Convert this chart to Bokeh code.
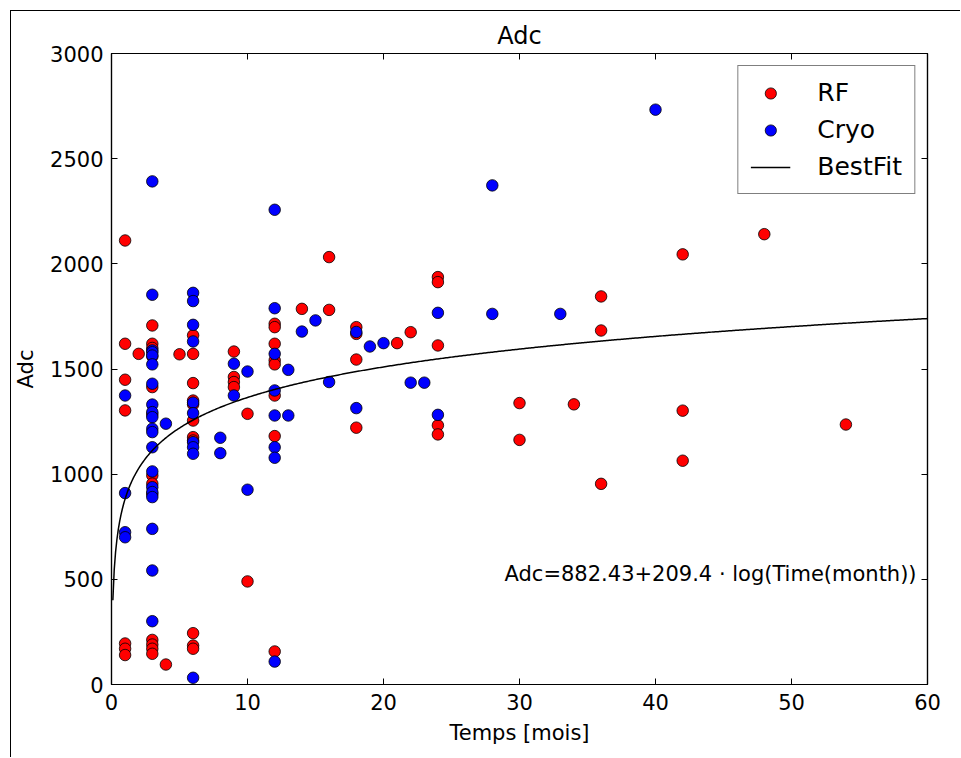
import numpy as np
from bokeh.plotting import figure
from bokeh.models import FixedTicker, LinearAxis, Label, Legend, LegendItem, Range1d, ColumnDataSource
from bokeh.embed import file_html
from bokeh.resources import INLINE

# ---- data ----
rf_months = [1, 1, 1, 1, 1, 1, 1,
             2,
             3, 3, 3, 3, 3, 3, 3, 3, 3, 3, 3, 3, 3,
             4, 5,
             6, 6, 6, 6, 6, 6, 6, 6, 6, 6, 6,
             9, 9, 9, 9,
             10, 10,
             12, 12, 12, 12, 12, 12, 12, 12,
             14, 16, 16,
             18, 18, 18, 18,
             21, 22,
             24, 24, 24, 24, 24,
             30, 30, 34,
             36, 36, 36,
             42, 42, 42,
             48, 54]
rf_adc = [2111, 1620, 1449, 1303, 195, 170, 140,
          1572,
          1707, 1620, 1600, 1560, 1414, 1284, 994, 955, 905, 212, 190, 170, 146,
          95, 1570,
          1660, 1572, 1433, 1350, 1331, 1255, 1176, 1160, 244, 185, 170,
          1583, 1462, 1438, 1414,
          1287, 490,
          1715, 1699, 1620, 1541, 1522, 1374, 1181, 157,
          1786, 2032, 1781,
          1699, 1667, 1545, 1221,
          1623, 1675,
          1937, 1913, 1612, 1232, 1189,
          1338, 1163, 1332,
          1845, 1683, 954,
          2045, 1302, 1064,
          2141, 1236]

cryo_months = [1, 1, 1, 1,
               3, 3, 3, 3, 3, 3, 3, 3, 3, 3, 3, 3, 3, 3, 3, 3, 3, 3, 3, 3,
               4,
               6, 6, 6, 6, 6, 6, 6, 6, 6, 6,
               8, 8,
               9, 9,
               10, 10,
               12, 12, 12, 12, 12, 12, 12, 12,
               13, 13,
               14, 15, 16,
               18, 18,
               19, 20, 22, 23,
               24, 24,
               28, 28, 33, 40]
cryo_adc = [1374, 910, 724, 700,
            2392, 1853, 1588, 1580, 1564, 1522, 1430, 1331, 1295, 1271, 1216, 1200, 1128, 1013, 938, 915, 891, 740, 542, 301,
            1240,
            1862, 1823, 1710, 1631, 1340, 1290, 1152, 1128, 1097, 32,
            1173, 1100,
            1525, 1374,
            1488, 926,
            2257, 1789, 1572, 1398, 1279, 1128, 1078, 109,
            1496, 1279,
            1678, 1731, 1438,
            1676, 1314,
            1607, 1623, 1435, 1435,
            1767, 1282,
            2373, 1762, 1762, 2733]

# best-fit model stated on the chart: Adc = a + b * log(t)
fit_intercept = 882.43
fit_slope = 209.4
fit_t_start = 0.1
fit_t_end = 60

x_ticks = [0, 10, 20, 30, 40, 50, 60]
y_ticks = [0, 500, 1000, 1500, 2000, 2500, 3000]

title_text = "Adc"
x_label = "Temps [mois]"
y_label = "Adc"
equation_text = "Adc=882.43+209.4 \u00b7 log(Time(month))"

FONT = "DejaVu Sans"

fit_t = np.linspace(fit_t_start, fit_t_end, 600)
fit_adc = fit_intercept + fit_slope * np.log(fit_t)

p = figure(width=950, height=747,
           x_range=Range1d(0, 60), y_range=Range1d(0, 3000),
           output_backend="svg", toolbar_location=None,
           min_border_left=100, min_border_right=34,
           min_border_top=42, min_border_bottom=74,
           title=title_text)
p.margin = (10, 0, 0, 10)
p.styles = {"border-top": "1.5px solid black", "border-left": "1.5px solid black"}
p.background_fill_color = "white"
p.border_fill_color = "white"
p.outline_line_color = "black"
p.outline_line_width = 1.2
p.xgrid.visible = False
p.ygrid.visible = False

p.title.align = "center"
p.title.text_font = FONT
p.title.text_font_size = "24px"
p.title.text_font_style = "normal"
p.title.text_color = "black"
p.title.standoff = 7

def style_axis(ax, ticks, show_labels=True):
    ax.ticker = FixedTicker(ticks=ticks)
    ax.minor_tick_line_color = None
    ax.major_tick_in = 6
    ax.major_tick_out = 0
    ax.major_tick_line_color = "black"
    ax.axis_line_color = "black"
    ax.axis_line_width = 1.2
    ax.major_label_text_font = FONT
    ax.major_label_text_color = "black"
    ax.axis_label_text_font = FONT
    ax.axis_label_text_font_style = "normal"
    ax.axis_label_text_color = "black"
    if show_labels:
        ax.major_label_text_font_size = "21px"
        ax.axis_label_text_font_size = "21px"
    else:
        ax.major_label_text_color = None
        ax.major_label_text_font_size = "1px"
        ax.major_label_standoff = 0

xa = p.xaxis[0]
ya = p.yaxis[0]
style_axis(xa, x_ticks)
style_axis(ya, y_ticks)
xa.axis_label = x_label
ya.axis_label = y_label
xa.major_label_standoff = 9
ya.major_label_standoff = 8
xa.axis_label_standoff = 8
ya.axis_label_standoff = 9

top_ax = LinearAxis()
right_ax = LinearAxis()
style_axis(top_ax, x_ticks, show_labels=False)
style_axis(right_ax, y_ticks, show_labels=False)
p.add_layout(top_ax, "above")
p.add_layout(right_ax, "right")

rf_src = ColumnDataSource(dict(x=rf_months, y=rf_adc))
cryo_src = ColumnDataSource(dict(x=cryo_months, y=cryo_adc))
fit_src = ColumnDataSource(dict(x=fit_t, y=fit_adc))

r_rf = p.scatter("x", "y", source=rf_src, size=11.5, fill_color="red",
                 line_color="black", line_width=0.8)
r_cryo = p.scatter("x", "y", source=cryo_src, size=11.5, fill_color="blue",
                   line_color="black", line_width=0.8)
r_fit = p.line("x", "y", source=fit_src, line_color="black", line_width=1.5)

legend = Legend(items=[LegendItem(label="RF", renderers=[r_rf]),
                       LegendItem(label="Cryo", renderers=[r_cryo]),
                       LegendItem(label="BestFit", renderers=[r_fit])],
                location="top_right")
legend.margin = 12
legend.padding = 12
legend.spacing = 8
legend.glyph_width = 40
legend.glyph_height = 28
legend.label_height = 28
legend.label_standoff = 27
legend.label_text_font = FONT
legend.label_text_font_size = "25px"
legend.label_text_color = "black"
legend.border_line_color = "black"
legend.border_line_width = 1.2
legend.background_fill_alpha = 1.0
p.add_layout(legend)

eq = Label(x=28.9, y=525, text=equation_text, text_font=FONT,
           text_font_size="21px", text_color="black",
           text_baseline="alphabetic", text_align="left")
eq.level = "overlay"
p.add_layout(eq)

open("out.html", "w").write(file_html(p, INLINE))
